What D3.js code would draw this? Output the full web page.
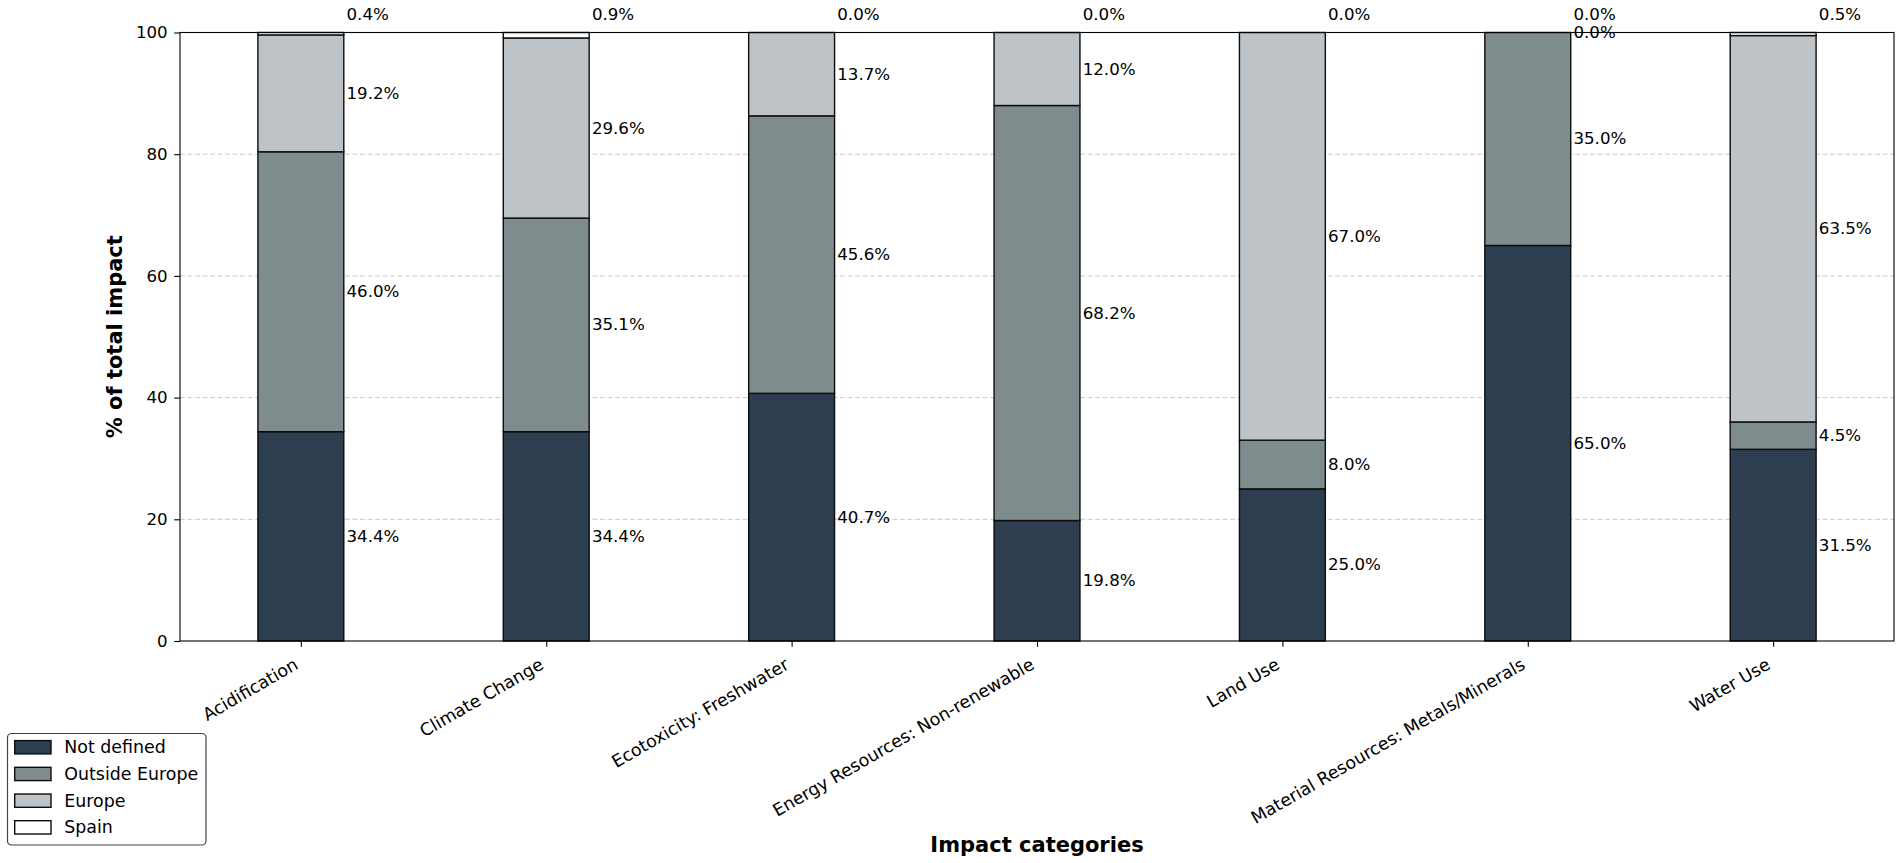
<!DOCTYPE html>
<html>
<head>
<meta charset="utf-8">
<script src="https://cdn.jsdelivr.net/npm/d3@7"></script>
<style>
  html, body { margin: 0; padding: 0; background: #fff; }
  svg { display: block; font-family: "DejaVu Sans", sans-serif; }
</style>
</head>
<body>
<svg id="chart" width="1902" height="863"></svg>
<script>
const categories = [
  "Acidification",
  "Climate Change",
  "Ecotoxicity: Freshwater",
  "Energy Resources: Non-renewable",
  "Land Use",
  "Material Resources: Metals/Minerals",
  "Water Use"
];
const seriesNames = ["Not defined", "Outside Europe", "Europe", "Spain"];
const notDefined    = [34.4, 34.4, 40.7, 19.8, 25.0, 65.0, 31.5];
const outsideEurope = [46.0, 35.1, 45.6, 68.2, 8.0, 35.0, 4.5];
const europe        = [19.2, 29.6, 13.7, 12.0, 67.0, 0.0, 63.5];
const spain         = [0.4, 0.9, 0.0, 0.0, 0.0, 0.0, 0.5];
const yTicks = [0, 20, 40, 60, 80, 100];
const colors = ["#2c3e50", "#7f8c8d", "#bdc3c7", "#ffffff"];

const seriesValues = [notDefined, outsideEurope, europe, spain];

const svg = d3.select("#chart");
const pLeft = 180, pRight = 1894, pTop = 32.5, pBottom = 641;
const barW = 0.35;

const x = d3.scaleLinear().domain([-0.4925, 6.4925]).range([pLeft, pRight]);
const y = d3.scaleLinear().domain([0, 100]).range([pBottom, pTop]);

// grid
svg.append("g").selectAll("line")
  .data(yTicks.filter(t => t > 0 && t < 100))
  .join("line")
  .attr("x1", pLeft).attr("x2", pRight)
  .attr("y1", d => y(d)).attr("y2", d => y(d))
  .attr("stroke", "#c8c8c8").attr("stroke-width", 1)
  .attr("stroke-dasharray", "5,2.5");

// stacked data
const rows = categories.map((c, i) => {
  const o = { cat: c, idx: i };
  seriesNames.forEach((s, k) => { o[s] = seriesValues[k][i]; });
  return o;
});
const stack = d3.stack().keys(seriesNames)(rows);

const barsG = svg.append("g");
stack.forEach((layer, k) => {
  barsG.append("g").selectAll("rect")
    .data(layer)
    .join("rect")
    .attr("x", d => x(d.data.idx - barW / 2))
    .attr("width", x(barW) - x(0))
    .attr("y", d => y(d[1]))
    .attr("height", d => Math.max(0, y(d[0]) - y(d[1])))
    .attr("fill", colors[k])
    .attr("stroke", "#0d0d0d")
    .attr("stroke-width", 1.4);
});

// value labels
const labelsG = svg.append("g").attr("font-size", 16.67).attr("fill", "#000");
stack.forEach((layer, k) => {
  labelsG.append("g").selectAll("text")
    .data(layer)
    .join("text")
    .attr("x", d => x(d.data.idx + barW / 2) + 2.7)
    .attr("y", d => k === seriesNames.length - 1 ? y(d[1] + 3) : y((d[0] + d[1]) / 2))
    .attr("dominant-baseline", "central")
    .text(d => (d[1] - d[0]).toFixed(1) + "%");
});

// frame
svg.append("rect")
  .attr("x", pLeft).attr("y", pTop)
  .attr("width", pRight - pLeft).attr("height", pBottom - pTop)
  .attr("fill", "none").attr("stroke", "#000").attr("stroke-width", 1.1);

// y axis
const yAxis = svg.append("g").attr("transform", `translate(${pLeft},0)`)
  .call(d3.axisLeft(y).tickValues(yTicks).tickSize(5.8).tickPadding(6.5).tickFormat(d3.format("d")));
yAxis.select(".domain").remove();
yAxis.selectAll("text").attr("font-size", 16.67).attr("font-family", "DejaVu Sans").attr("fill", "#000");
yAxis.selectAll("line").attr("stroke", "#000").attr("stroke-width", 1.1);

// x axis
const xAxis = svg.append("g").attr("transform", `translate(0,${pBottom})`)
  .call(d3.axisBottom(x).tickValues(d3.range(categories.length)).tickSize(5.8).tickFormat(""));
xAxis.select(".domain").remove();
xAxis.selectAll("line").attr("stroke", "#000").attr("stroke-width", 1.1);

svg.append("g").selectAll("text")
  .data(categories)
  .join("text")
  .attr("transform", (d, i) => `translate(${x(i) - 1.5},${pBottom + 27}) rotate(-30)`)
  .attr("text-anchor", "end")
  .attr("font-size", 17.4)
  .attr("fill", "#000")
  .text(d => d);

// axis titles
svg.append("text")
  .attr("x", (pLeft + pRight) / 2).attr("y", 852)
  .attr("text-anchor", "middle")
  .attr("font-size", 21).attr("font-weight", "bold")
  .text("Impact categories");

svg.append("text")
  .attr("transform", `translate(122,${(pTop + pBottom) / 2}) rotate(-90)`)
  .attr("text-anchor", "middle")
  .attr("font-size", 21).attr("font-weight", "bold")
  .text("% of total impact");

// legend
const leg = svg.append("g");
leg.append("rect")
  .attr("x", 7.5).attr("y", 733.5).attr("width", 198.5).attr("height", 111.5)
  .attr("rx", 4).attr("fill", "#fff").attr("stroke", "#444").attr("stroke-width", 1.2);
seriesNames.forEach((s, k) => {
  const cy = 747.3 + k * 26.7;
  leg.append("rect")
    .attr("x", 14.7).attr("y", cy - 6.7).attr("width", 36.3).attr("height", 13.3)
    .attr("fill", colors[k]).attr("stroke", "#0d0d0d").attr("stroke-width", 1.4);
  leg.append("text")
    .attr("x", 64.3).attr("y", cy)
    .attr("dominant-baseline", "central")
    .attr("font-size", 17.4)
    .text(s);
});
</script>
</body>
</html>
